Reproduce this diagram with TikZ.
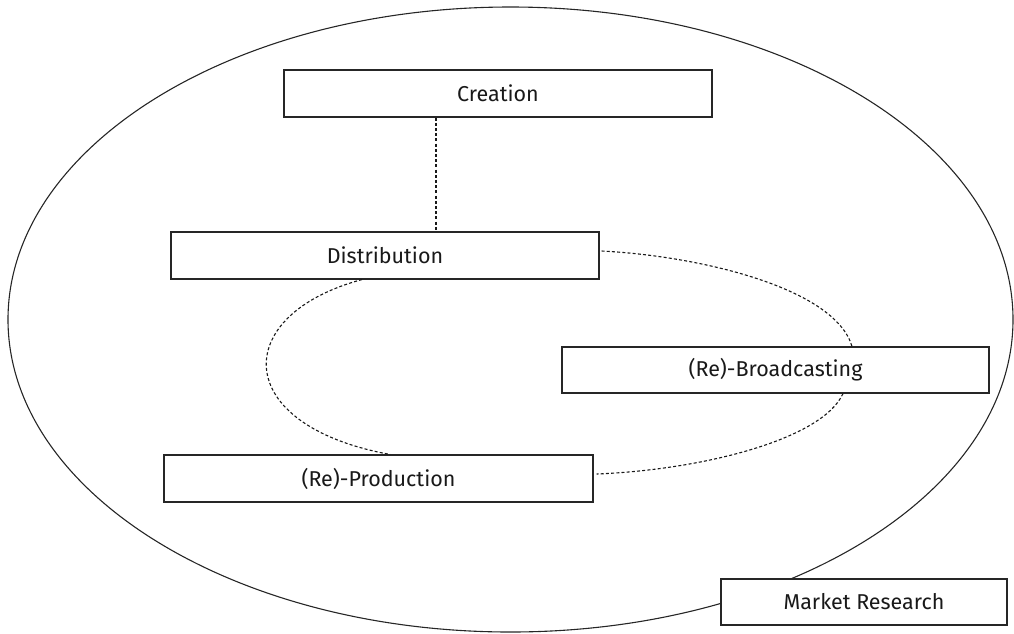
\documentclass[tikz,border=0pt]{standalone}
\usepackage{fontspec}
\setmainfont{Fira Sans}
\begin{document}
\begin{tikzpicture}[x=1pt,y=-1pt,
  stagebox/.style={draw=black!85, line width=1.1pt, fill=white, rectangle,
    inner sep=0pt, minimum height=47pt, font=\fontsize{21.5}{24}\selectfont, text=black!90},
  link/.style={draw=black!90, line width=1.1pt, dash pattern=on 3pt off 2.2pt},
  ring/.style={draw=black!85, line width=1.1pt}]
\useasboundingbox (0,0) rectangle (1014,633);

% market boundary
\draw[ring] (510.5,319.5) ellipse [x radius=502.5, y radius=312.5];

% stages
\node[stagebox, minimum width=428pt] (crea)  at (498,93.5)   {Creation};
\node[stagebox, minimum width=428pt] (dist)  at (385,255.5)  {Distribution};
\node[stagebox, minimum width=427pt, minimum height=46pt] (broad) at (775.5,370) {(Re)-Broadcasting};
\node[stagebox, minimum width=429pt] (prod)  at (378.5,478.5) {(Re)-Production};
\node[stagebox, minimum width=286pt, minimum height=46pt] (mkt) at (864,602) {Market Research};

% links between stages
\draw[link] ([xshift=-62pt]crea.south) -- ([xshift=-62pt]crea.south |- dist.north);
\draw[link] ([xshift=2pt,yshift=4.5pt]dist.east)
  .. controls (700,256) and (835,288) .. ([xshift=76.5pt]broad.north);
\draw[link] ([xshift=67.5pt]broad.south)
  .. controls (822,440) and (700,470) .. ([xshift=3pt,yshift=4.5pt]prod.east);
\draw[link] ([xshift=-23pt]dist.south)
  .. controls (230,315) and (230,425) .. ([xshift=11.5pt]prod.north);
\end{tikzpicture}
\end{document}
